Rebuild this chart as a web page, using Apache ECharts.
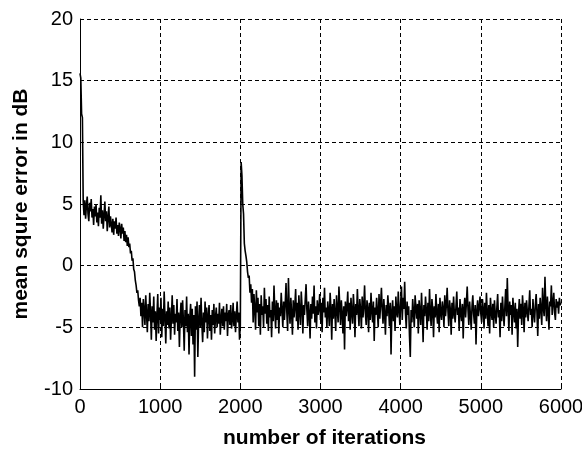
<!DOCTYPE html>
<html>
<head>
<meta charset="utf-8">
<script src="https://cdn.jsdelivr.net/npm/echarts@6/dist/echarts.min.js"></script>
<style>html,body{margin:0;padding:0;background:#fff}#c{width:582px;height:449px}</style>
</head>
<body>
<div id="c"></div>
<script>
// iteration step between samples
var iterStep = 10;
var xTicks = [0, 1000, 2000, 3000, 4000, 5000, 6000];
var yTicks = [-10, -5, 0, 5, 10, 15, 20];

var mse0 = [15.6,15.2,12.3,12.0,5.2,4.1,5.3,3.8,4.9,5.6,
4.2,3.6,5.1,4.4,5.4,3.9,4.6,3.3,4.8,4.0,
5.0,3.5,4.3,3.2,4.7,3.9,5.7,3.4,4.5,3.0,
4.1,5.2,3.6,4.4,2.8,3.9,4.8,3.1,4.0,3.4,
2.7,3.8,2.5,3.6,3.0,3.9,2.6,3.3,2.4,3.5];
var mse500 = [3.0,2.2,3.4,2.6,3.1,2.0,2.8,1.9,2.5,1.6,
2.3,1.5,1.8,1.0,1.2,0.4,0.6,-0.3,-0.5,-1.2,
-1.6,-2.2,-2.0,-2.8,-3.3,-2.6,-4.1,-3.0,-5.0,-2.7,
-3.6,-4.8,-2.4,-3.9,-5.4,-3.1,-4.5,-2.2,-3.8,-6.0,
-3.3,-4.6,-2.5,-5.2,-3.7,-6.1,-4.0,-2.3,-5.5,-3.4];
var mse1000 = [-4.4,-2.6,-5.8,-3.5,-4.9,-2.1,-4.2,-6.3,-3.7,-4.8,
-2.9,-5.1,-3.4,-6.0,-4.3,-2.4,-4.7,-3.2,-5.6,-3.9,
-4.6,-2.7,-5.3,-3.8,-6.6,-4.1,-3.0,-5.0,-2.8,-4.5,
-6.9,-3.6,-4.9,-2.5,-5.4,-3.9,-7.2,-4.2,-3.1,-5.7,
-3.5,-6.4,-4.0,-9.0,-3.3,-5.2,-2.9,-7.4,-4.4,-3.2];
var mse1500 = [-5.0,-2.6,-4.7,-6.2,-3.8,-5.4,-2.9,-4.6,-3.4,-5.9,
-4.1,-3.2,-5.3,-4.0,-6.0,-3.6,-4.8,-3.1,-5.5,-4.2,
-3.4,-5.0,-3.9,-4.7,-3.0,-5.6,-4.3,-3.5,-4.9,-3.3,
-5.2,-3.8,-4.5,-3.1,-5.7,-4.0,-3.6,-4.8,-3.2,-5.1,
-4.4,-3.0,-4.9,-3.7,-5.4,-4.1,-2.9,-4.6,-3.8,-6.0];
var mse2000 = [-4.8,8.4,7.3,5.0,4.2,1.8,1.2,0.8,0.3,-0.5,
-1.0,-0.8,-2.2,-1.5,-3.0,-1.9,-4.6,-2.3,-3.5,-5.2,
-2.0,-3.8,-2.6,-4.9,-3.1,-5.6,-2.4,-4.0,-3.3,-5.0,
-1.8,-3.9,-2.7,-4.7,-3.2,-5.3,-2.5,-4.2,-3.6,-5.8,
-2.9,-4.5,-1.6,-3.7,-5.1,-2.8,-4.4,-3.0,-5.5,-3.4];
var mse2500 = [-4.1,-2.2,-3.6,-5.0,-2.9,-4.4,-3.1,-1.4,-3.8,-5.3,
-1.0,-3.5,-4.7,-2.6,-3.9,-5.6,-2.8,-4.2,-3.3,-1.9,
-4.5,-3.0,-5.2,-2.4,-3.7,-4.8,-2.1,-3.4,-5.5,-3.2,
-4.0,-2.7,-1.5,-3.6,-4.9,-2.9,-3.8,-5.9,-3.1,-4.3,
-2.5,-3.9,-1.6,-4.6,-3.3,-5.1,-2.8,-4.0,-3.5,-2.3];
var mse3000 = [-4.4,-3.0,-5.4,-2.6,-3.8,-1.8,-4.2,-3.4,-5.0,-2.9,
-3.7,-4.9,-2.2,-3.5,-6.0,-3.1,-4.3,-2.7,-3.9,-5.3,
-2.4,-3.6,-4.6,-1.7,-3.2,-4.8,-2.8,-3.9,-5.5,-3.3,
-6.8,-2.9,-4.1,-3.4,-2.1,-4.5,-3.0,-5.2,-2.6,-3.8,
-4.7,-2.3,-3.5,-5.8,-3.1,-4.0,-1.9,-3.7,-4.9,-2.7];
var mse3500 = [-3.6,-5.1,-2.5,-4.2,-3.3,-1.6,-3.9,-4.8,-2.8,-3.5,
-5.4,-3.0,-4.4,-2.2,-3.7,-4.6,-2.9,-6.1,-3.4,-4.0,
-2.6,-3.8,-5.0,-2.3,-4.3,-3.1,-1.8,-3.6,-4.7,-2.7,
-3.9,-5.6,-3.2,-4.1,-2.4,-3.5,-4.9,-3.0,-7.2,-3.7,
-2.8,-4.5,-3.3,-5.3,-2.5,-3.8,-4.2,-2.1,-3.6,-4.8];
var mse4000 = [-3.0,-1.7,-4.4,-2.6,-3.5,-1.3,-3.9,-5.1,-2.9,-4.0,
-3.3,-5.7,-7.4,-3.6,-4.6,-2.7,-3.8,-5.0,-2.4,-3.4,
-4.3,-3.1,-5.5,-2.8,-3.7,-4.8,-2.2,-3.9,-6.2,-3.2,
-4.1,-2.5,-3.6,-5.2,-3.0,-4.5,-1.9,-3.8,-4.9,-2.7,
-3.5,-5.8,-3.3,-4.2,-2.3,-3.9,-4.7,-3.1,-5.4,-2.6];
var mse4500 = [-3.8,-4.4,-2.9,-3.5,-5.0,-2.4,-4.1,-3.2,-1.8,-3.7,
-4.9,-2.8,-3.6,-5.6,-3.0,-4.3,-2.5,-3.9,-4.6,-3.3,
-2.1,-4.0,-3.4,-5.3,-2.7,-3.8,-4.5,-3.1,-5.9,-3.5,
-2.6,-4.2,-3.0,-1.7,-3.6,-4.8,-2.9,-4.0,-5.2,-3.3,
-2.4,-3.9,-4.7,-3.2,-6.4,-3.7,-2.8,-4.1,-3.4,-2.5];
var mse5000 = [-3.9,-4.6,-2.7,-3.5,-5.1,-3.0,-4.3,-2.2,-3.8,-4.9,
-3.2,-5.5,-2.6,-3.7,-4.4,-3.1,-5.0,-2.8,-3.9,-4.7,
-3.4,-2.3,-4.2,-3.6,-5.8,-3.0,-4.5,-2.5,-3.8,-4.9,
-3.3,-1.9,-4.1,-1.0,-3.5,-5.3,-2.9,-4.0,-3.2,-5.6,
-2.6,-3.7,-4.6,-3.0,-5.1,-3.5,-6.6,-3.9,-2.7,-4.3];
var mse5500 = [-3.1,-4.8,-2.4,-3.6,-5.4,-3.0,-4.2,-2.8,-3.7,-4.5,
-3.3,-2.0,-4.0,-3.5,-5.0,-2.7,-3.9,-4.6,-3.2,-2.3,
-3.8,-5.7,-3.1,-4.3,-2.6,-3.5,-4.8,-1.8,-3.4,-4.1,
-0.9,-3.2,-4.5,-2.5,-3.7,-5.2,-2.9,-3.3,-1.6,-4.0,
-3.0,-2.2,-3.8,-4.4,-2.7,-3.4,-2.9,-3.9,-2.6,-3.2,
-3.0];

var mse = [].concat(mse0, mse500, mse1000, mse1500, mse2000, mse2500,
  mse3000, mse3500, mse4000, mse4500, mse5000, mse5500);
var data = mse.map(function (v, i) { return [i * iterStep, v]; });

var chart = echarts.init(document.getElementById('c'), null, {renderer: 'canvas'});
var fontFam = '"Liberation Sans", Arial, sans-serif';
var gridLine = {show: true, lineStyle: {color: '#000', width: 1, type: [4, 3]}};
chart.setOption({
  backgroundColor: '#fff',
  animation: false,
  grid: {left: 80, top: 19, right: 21, bottom: 60, containLabel: false, outerBoundsMode: 'none'},
  xAxis: {
    type: 'value', min: 0, max: 6000, interval: 1000,
    name: 'number of iterations', nameLocation: 'middle', nameGap: 39,
    nameTextStyle: {color: '#000', fontSize: 21, fontWeight: 'bold', fontFamily: fontFam, padding: [0, 0, 0, 8]},
    axisLine: {show: true, onZero: false, lineStyle: {color: '#000', width: 1}},
    axisTick: {show: true, inside: true, length: 4, lineStyle: {color: '#000'}},
    axisLabel: {color: '#000', fontSize: 20, fontFamily: fontFam, margin: 8,
      formatter: function (v) { return String(v); }},
    splitLine: gridLine
  },
  yAxis: {
    type: 'value', min: -10, max: 20, interval: 5,
    name: 'mean squre error in dB', nameLocation: 'middle', nameGap: 48,
    nameTextStyle: {color: '#000', fontSize: 21, fontWeight: 'bold', fontFamily: fontFam},
    axisLine: {show: true, onZero: false, lineStyle: {color: '#000', width: 1}},
    axisTick: {show: true, inside: true, length: 4, lineStyle: {color: '#000'}},
    axisLabel: {color: '#000', fontSize: 20, fontFamily: fontFam, margin: 7,
      formatter: function (v) { return String(v); }},
    splitLine: gridLine
  },
  series: [{
    type: 'line', data: data, showSymbol: false, symbol: 'none',
    lineStyle: {color: '#000', width: 1.6}, z: 3, clip: true
  }]
});
</script>
</body>
</html>
